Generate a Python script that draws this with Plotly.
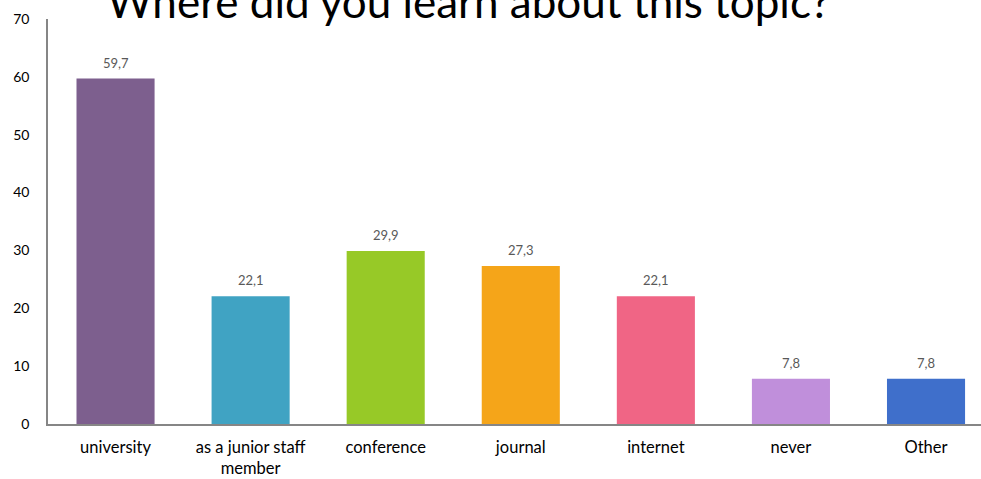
import plotly.graph_objects as go

categories = ["university", "as a junior staff<br>member", "conference", "journal", "internet", "never", "Other"]
values = [59.7, 22.1, 29.9, 27.3, 22.1, 7.8, 7.8]
colors = ["#7D5F8E", "#40A3C3", "#97C927", "#F5A519", "#F06585", "#C08FDB", "#3F6FCB"]
y_ticks = [0, 10, 20, 30, 40, 50, 60, 70]
title_text = "Where did you learn about this topic?"

FONT = "Lato, 'Open Sans', sans-serif"

fig = go.Figure(go.Bar(
    x=list(range(len(categories))),
    y=values,
    marker=dict(color=colors, line=dict(width=0)),
    width=0.578,
    hoverinfo="skip",
))

for i, v in enumerate(values):
    fig.add_annotation(
        x=i, y=v, xref="x", yref="y",
        text=f"{v:.1f}".replace(".", ","),
        showarrow=False, yanchor="bottom", yshift=6,
        font=dict(family=FONT, size=13, color="#595959"),
    )

fig.add_annotation(
    x=0.4507, y=1.0, xref="paper", yref="paper",
    text=title_text, showarrow=False,
    xanchor="center", yanchor="bottom", yshift=-10,
    font=dict(family=FONT, size=44, color="#000000"),
)

fig.update_layout(
    width=981, height=479,
    margin=dict(l=48, r=0, t=19, b=55, pad=0),
    paper_bgcolor="white", plot_bgcolor="white",
    showlegend=False,
    font=dict(family=FONT, size=14, color="#000000"),
    xaxis=dict(
        range=[-0.5, 6.407],
        tickmode="array", tickvals=list(range(len(categories))), ticktext=categories,
        showgrid=False, zeroline=False,
        showline=True, linecolor="#868686", linewidth=1.5,
        ticks="", tickfont=dict(family=FONT, size=16.5, color="#000000"),
        ticklabelstandoff=7,
    ),
    yaxis=dict(
        range=[0, 70],
        tickmode="array", tickvals=y_ticks,
        showgrid=False, zeroline=False,
        showline=True, linecolor="#868686", linewidth=1.5,
        ticks="", tickfont=dict(family=FONT, size=14, color="#000000"),
        ticklabelstandoff=14,
    ),
)

fig.write_html(
    "out.html",
    config={"displayModeBar": False},
    post_script="document.body.style.margin='0';",
)
